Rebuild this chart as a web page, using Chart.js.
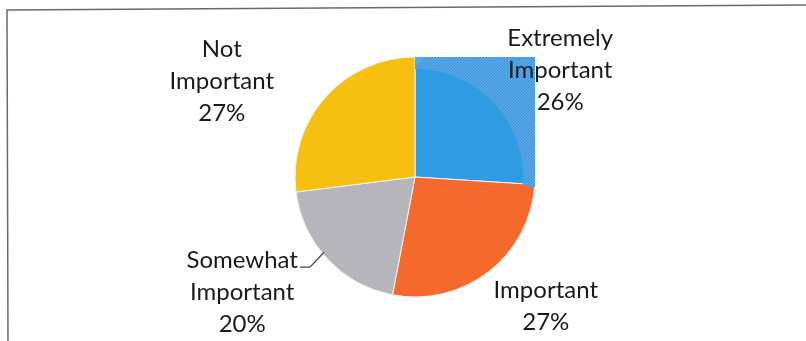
<!DOCTYPE html>
<html>
<head>
<meta charset="utf-8">
<script src="https://cdn.jsdelivr.net/npm/chart.js@4/dist/chart.umd.min.js"></script>
<style>
  html, body { margin: 0; padding: 0; background: #fff; }
  #wrap { width: 806px; height: 341px; position: relative; }
</style>
</head>
<body>
<div id="wrap"><canvas id="pie" width="806" height="341"></canvas></div>
<script>
// importance ratings, clockwise from 12 o'clock
const categories = ['Extremely\nImportant', 'Important', 'Somewhat\nImportant', 'Not\nImportant'];
const shares = [26, 27, 20, 27];
const sliceColors = ['#2f9be2', '#f5692c', '#b5b5bb', '#f7c010'];

// where each label block sits, as [dx, dy] in pie radii from the centre
const labelPlacement = [
    [1.21, -0.89],
    [1.09, 1.08],
    [-1.44, 0.96],
    [-1.61, -0.80]
];

const FONT = '24px Lato, "Liberation Sans", sans-serif';
const LINE_H = 32;

// thin outline of the chart box
const framePlugin = {
    id: 'frame',
    beforeDraw(chart) {
        const ctx = chart.ctx;
        ctx.save();
        ctx.strokeStyle = '#6a6a6a';
        ctx.lineWidth = 1.5;
        ctx.beginPath();
        ctx.moveTo(8, 341);
        ctx.lineTo(7, 10);
        ctx.lineTo(806, 5);
        ctx.stroke();
        ctx.restore();
    }
};

// striped fill in the corner of the first slice's quadrant
const cornerPlugin = {
    id: 'corner',
    afterDatasetsDraw(chart) {
        const arc = chart.getDatasetMeta(0).data[0];
        if (!arc) return;
        const { x, y, outerRadius: r } = arc.getProps(['x', 'y', 'outerRadius'], true);
        const ctx = chart.ctx;
        ctx.save();
        ctx.beginPath();
        ctx.moveTo(x, y - r);
        ctx.lineTo(x + r, y - r);
        ctx.lineTo(x + r, y + 10);
        ctx.lineTo(x + r * 0.99, y + 10);
        ctx.arc(x, y, r - 12, 0.08, -Math.PI / 2, true);
        ctx.closePath();
        ctx.clip();
        ctx.fillStyle = '#55aae9';
        ctx.fillRect(x, y - r, r, r + 12);
        ctx.strokeStyle = 'rgba(35, 95, 175, 0.38)';
        ctx.lineWidth = 1;
        for (let k = -r; k < 2 * r; k += 3) {
            ctx.beginPath();
            ctx.moveTo(x + k, y + 12);
            ctx.lineTo(x + k + r + 12, y - r);
            ctx.stroke();
        }
        ctx.restore();
    }
};

// category name + percentage outside each slice
const labelPlugin = {
    id: 'outLabels',
    afterDraw(chart) {
        const meta = chart.getDatasetMeta(0);
        const ctx = chart.ctx;
        ctx.save();
        ctx.font = FONT;
        ctx.fillStyle = '#1a1a1a';
        ctx.textAlign = 'center';
        ctx.textBaseline = 'middle';
        meta.data.forEach((arc, i) => {
            const { x, y, outerRadius: r } = arc.getProps(['x', 'y', 'outerRadius'], true);
            const lines = categories[i].split('\n').concat(shares[i] + '%');
            const bx = x + labelPlacement[i][0] * r;
            const by = y + labelPlacement[i][1] * r;
            const top = by - (lines.length - 1) * LINE_H / 2;
            lines.forEach((t, j) => ctx.fillText(t, bx, top + j * LINE_H));

            // leader line for the small slice
            if (i === 2) {
                const w = ctx.measureText(lines[0]).width;
                const lx = bx + w / 2 + 2;
                const ly = top + 7;
                const mid = arc.startAngle + (arc.endAngle - arc.startAngle) * 0.55;
                ctx.strokeStyle = '#444';
                ctx.lineWidth = 1.2;
                ctx.beginPath();
                ctx.moveTo(lx, ly);
                ctx.lineTo(lx + 10, ly);
                ctx.lineTo(x + Math.cos(mid) * (r - 2), y + Math.sin(mid) * (r - 2));
                ctx.stroke();
            }
        });
        ctx.restore();
    }
};

new Chart(document.getElementById('pie'), {
    type: 'pie',
    data: {
        labels: categories,
        datasets: [{
            data: shares,
            backgroundColor: sliceColors,
            borderColor: '#f4f4f4',
            borderWidth: 1,
            hoverOffset: 0,
            radius: 120
        }]
    },
    options: {
        responsive: false,
        animation: false,
        events: [],
        layout: { padding: { left: 295, right: 271, top: 57, bottom: 44 } },
        plugins: {
            legend: { display: false },
            tooltip: { enabled: false }
        }
    },
    plugins: [framePlugin, cornerPlugin, labelPlugin]
});
</script>
</body>
</html>
